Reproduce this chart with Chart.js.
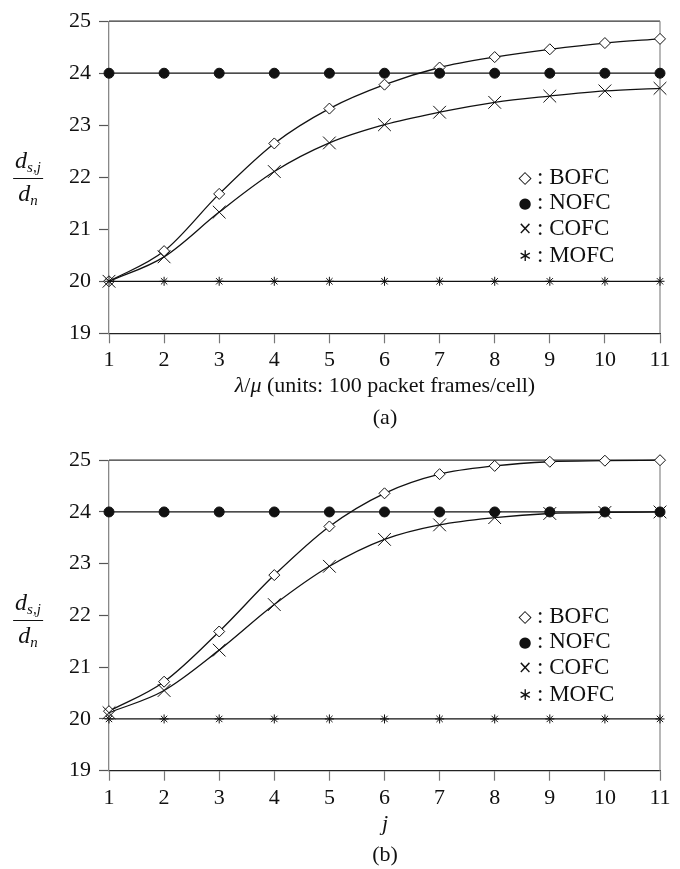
<!DOCTYPE html>
<html>
<head>
<meta charset="utf-8">
<script src="https://cdn.jsdelivr.net/npm/chart.js@4.4.1/dist/chart.umd.min.js"></script>
<style>
  body { margin: 0; background: #fff; }
  #page { position: relative; width: 680px; height: 869px; overflow: hidden; font-family: "Liberation Serif", "Times New Roman", serif; color: #111; }
  #page canvas { position: absolute; left: 0; }
  .txt { position: absolute; white-space: nowrap; font-size: 22px; transform: translate(-50%, -50%); }
  .it { font-style: italic; }
  .frac { position: absolute; transform: translate(-50%, -50%); font-size: 24px; font-style: italic; text-align: center; line-height: 1; }
  .frac .num { padding: 0 2px 3px; border-bottom: 1px solid #111; }
  .frac .den { padding-top: 2px; }
  .frac sub { font-size: 15px; vertical-align: -4px; }
  .legend { position: absolute; font-size: 23px; line-height: 1; }
  .legend div { position: absolute; left: 0; white-space: nowrap; transform: translateY(-50%); }
  .legend .mk { display: inline-block; width: 18px; text-align: center; font-family: "DejaVu Sans", sans-serif; font-size: 17px; margin-right: 3px; vertical-align: 1px; }
  .legend .mk.dot { font-size: 15px; }
</style>
</head>
<body>
<div id="page">
  <canvas id="chartA" width="680" height="380" style="top:0px"></canvas>
  <canvas id="chartB" width="680" height="380" style="top:439px"></canvas>

  <div class="frac" style="left:28px; top:178px"><div class="num">d<sub>s,j</sub></div><div class="den">d<sub>n</sub></div></div>
  <div class="txt" style="left:385px; top:385px"><span class="it">λ</span>/<span class="it">μ</span> (units: 100 packet frames/cell)</div>
  <div class="txt" style="left:385px; top:417px">(a)</div>
  <div class="legend" style="left:516px; top:0px">
    <div style="top:176px"><span class="mk">◇</span>: BOFC</div>
    <div style="top:201px"><span class="mk dot">●</span>: NOFC</div>
    <div style="top:227px"><span class="mk">×</span>: COFC</div>
    <div style="top:254px"><span class="mk">∗</span>: MOFC</div>
  </div>

  <div class="frac" style="left:28px; top:620px"><div class="num">d<sub>s,j</sub></div><div class="den">d<sub>n</sub></div></div>
  <div class="txt it" style="left:385px; top:823px">j</div>
  <div class="txt" style="left:385px; top:854px">(b)</div>
  <div class="legend" style="left:516px; top:0px">
    <div style="top:615px"><span class="mk">◇</span>: BOFC</div>
    <div style="top:640px"><span class="mk dot">●</span>: NOFC</div>
    <div style="top:666px"><span class="mk">×</span>: COFC</div>
    <div style="top:693px"><span class="mk">∗</span>: MOFC</div>
  </div>
</div>

<script>
// x positions (same for both panels)
const xValues = [1, 2, 3, 4, 5, 6, 7, 8, 9, 10, 11]
const yTicks = [19, 20, 21, 22, 23, 24, 25]

// panel (a): versus lambda/mu
const bofcA = [20.0, 20.58, 21.68, 22.65, 23.32, 23.78, 24.11, 24.31, 24.46, 24.58, 24.66]
const nofcA = [24, 24, 24, 24, 24, 24, 24, 24, 24, 24, 24]
const cofcA = [20.0, 20.47, 21.33, 22.11, 22.66, 23.01, 23.25, 23.44, 23.56, 23.66, 23.71]
const mofcA = [20, 20, 20, 20, 20, 20, 20, 20, 20, 20, 20]

// panel (b): versus j
const bofcB = [20.15, 20.72, 21.69, 22.78, 23.72, 24.36, 24.73, 24.89, 24.97, 24.99, 25.0]
const nofcB = [24, 24, 24, 24, 24, 24, 24, 24, 24, 24, 24]
const cofcB = [20.12, 20.55, 21.33, 22.21, 22.95, 23.47, 23.75, 23.89, 23.97, 23.99, 24.0]
const mofcB = [20, 20, 20, 20, 20, 20, 20, 20, 20, 20, 20]

const ink = '#111'
const tickFont = { family: '"Liberation Serif", "Times New Roman", serif', size: 22 }

// top and right sides of the plot box
const framePlugin = {
  id: 'frame',
  beforeDatasetsDraw(chart) {
    const { ctx, chartArea: a } = chart
    ctx.save()
    ctx.lineWidth = 1.2
    ctx.strokeStyle = '#333'
    ctx.beginPath(); ctx.moveTo(a.left, a.top); ctx.lineTo(a.right, a.top); ctx.stroke()
    ctx.strokeStyle = '#888'
    ctx.beginPath(); ctx.moveTo(a.right, a.top); ctx.lineTo(a.right, a.bottom); ctx.stroke()
    ctx.restore()
  }
}

const toPoints = (ys) => xValues.map((x, i) => ({ x, y: ys[i] }))

const series = (label, ys, style) => Object.assign({
  label,
  data: toPoints(ys),
  borderColor: ink,
  borderWidth: 1.3,
  pointBorderColor: ink,
  pointBorderWidth: 1,
  pointHoverRadius: 0,
  clip: false
}, style)

const renderPanel = (canvasId, sets, plotTop, plotBottom) => {
  const canvas = document.getElementById(canvasId)
  new Chart(canvas.getContext('2d'), {
    type: 'line',
    data: {
      datasets: [
        series('NOFC', sets[1], { pointStyle: 'circle', pointRadius: 5, pointBackgroundColor: ink }),
        series('MOFC', sets[3], { pointStyle: 'star', pointRadius: 4.5, pointBackgroundColor: ink }),
        series('COFC', sets[2], { pointStyle: 'crossRot', pointRadius: 9, cubicInterpolationMode: 'monotone' }),
        series('BOFC', sets[0], { pointStyle: 'rectRot', pointRadius: 5.5, pointBackgroundColor: '#fff', cubicInterpolationMode: 'monotone' })
      ]
    },
    options: {
      responsive: false,
      animation: false,
      events: [],
      layout: { padding: { top: plotTop, right: 20, left: 0, bottom: 0 } },
      plugins: { legend: { display: false }, tooltip: { enabled: false } },
      scales: {
        x: {
          type: 'linear',
          min: 1,
          max: 11,
          afterBuildTicks: (s) => { s.ticks = xValues.map(v => ({ value: v })) },
          afterFit: (s) => { s.height = canvas.height - plotBottom },
          grid: { drawOnChartArea: false, drawTicks: true, tickLength: 10, tickColor: '#777', tickWidth: 1.2 },
          border: { color: '#222', width: 1.3 },
          ticks: { font: tickFont, color: ink, padding: 4, maxRotation: 0 }
        },
        y: {
          min: 19,
          max: 25,
          afterBuildTicks: (s) => { s.ticks = yTicks.map(v => ({ value: v })) },
          afterFit: (s) => { s.width = 109 },
          grid: { drawOnChartArea: false, drawTicks: true, tickLength: 10, tickColor: '#555', tickWidth: 1.2 },
          border: { color: '#888', width: 1.3 },
          ticks: { font: tickFont, color: ink, padding: 8 }
        }
      }
    },
    plugins: [framePlugin]
  })
}

renderPanel('chartA', [bofcA, nofcA, cofcA, mofcA], 13.4, 333.3)
renderPanel('chartB', [bofcB, nofcB, cofcB, mofcB], 13.7, 331.7)
</script>
</body>
</html>
